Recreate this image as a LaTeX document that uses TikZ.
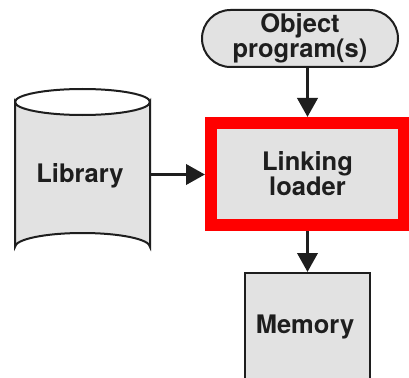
\documentclass[tikz,border=0pt]{standalone}
\usepackage{fontspec}
\setmainfont{TeX Gyre Heros}
\usetikzlibrary{arrows.meta,shapes.misc}
\definecolor{boxgrey}{HTML}{E2E2E2}
\definecolor{inkc}{HTML}{1E1E1E}
\tikzset{
  lbl/.style={font=\fontsize{25.5}{23}\selectfont\bfseries, text=inkc, align=center},
  conn/.style={draw=inkc, line width=3.8pt, -{Triangle[length=19pt,width=20pt]}},
  outl/.style={draw=inkc, line width=2pt, fill=boxgrey}
}
\begin{document}
\begin{tikzpicture}[x=1pt,y=-1pt]
\useasboundingbox (0,0) rectangle (409,377);
\clip (0,0) rectangle (409,377);
\fill[white] (0,0) rectangle (409,377);
% Object program(s) terminal
\node[outl, rounded rectangle, minimum width=196pt, minimum height=57pt, inner sep=0pt, lbl] (obj) at (300,38.5) {Object\\program(s)};
% Linking loader
\node[draw=red, line width=12pt, fill=boxgrey, minimum width=193pt, minimum height=102pt, lbl] (link) at (307.5,174) {Linking\\loader};
% Memory
\node[outl, minimum width=125pt, minimum height=112pt, lbl] (mem) at (307.5,329) {};
\node[lbl] (memt) at (305,327) {Memory};
% Library cylinder
\path[outl] (15,102) -- (15,247) arc[start angle=180, end angle=360, x radius=67.5, y radius=14] -- (150,102) arc[start angle=0, end angle=180, x radius=67.5, y radius=13] -- cycle;
\draw[draw=inkc, line width=2pt] (15,102) arc[start angle=180, end angle=360, x radius=67.5, y radius=13];
\node[minimum width=135pt, minimum height=145pt, inner sep=0pt] (libbox) at (82.5,174.5) {};
\node[lbl] (lib) at (80,176) {Library};
% connectors
\draw[conn] (obj.south -| link.north) -- (link.north);
\draw[conn] (libbox.east) -- (link.west |- libbox.east);
\draw[conn] (link.south) -- (mem.north);
\end{tikzpicture}
\end{document}
